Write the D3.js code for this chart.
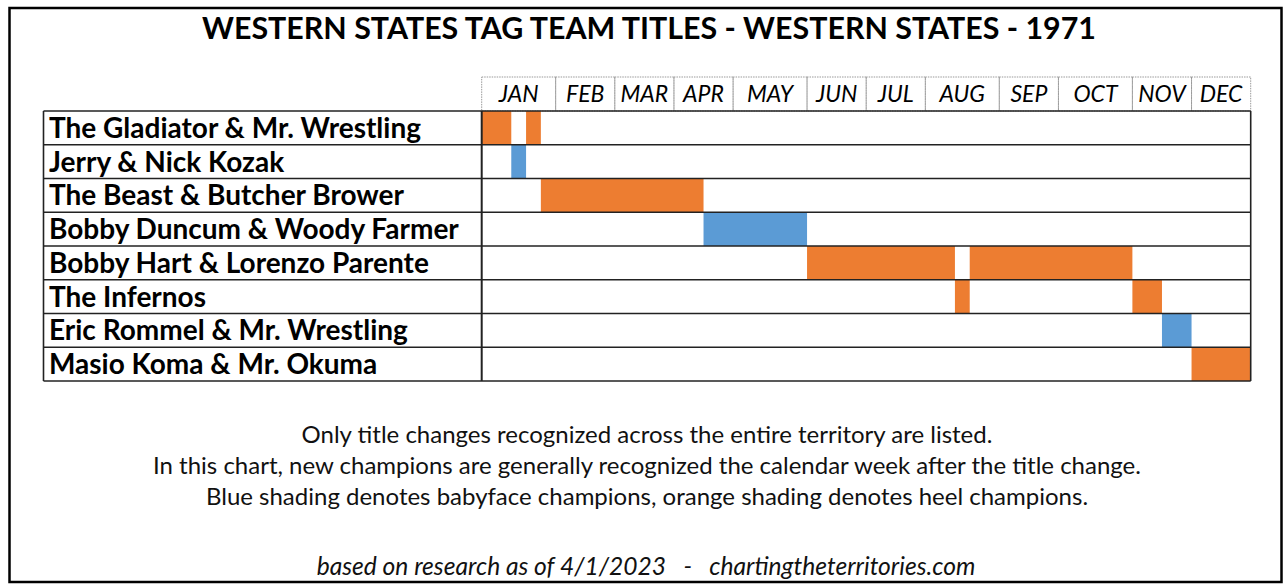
<!DOCTYPE html>
<html><head><meta charset="utf-8">
<script src="https://cdn.jsdelivr.net/npm/d3@7"></script>
<style>body{margin:0;background:#fff}svg{display:block}</style>
</head><body>
<svg id="c" width="1284" height="584"></svg>
<script>
const title = "WESTERN STATES TAG TEAM TITLES - WESTERN STATES - 1971";
const months = ["JAN","FEB","MAR","APR","MAY","JUN","JUL","AUG","SEP","OCT","NOV","DEC"];
const monthWeeks = [5,4,4,4,5,4,4,5,4,5,4,4];
const teams = [
  "The Gladiator & Mr. Wrestling",
  "Jerry & Nick Kozak",
  "The Beast & Butcher Brower",
  "Bobby Duncum & Woody Farmer",
  "Bobby Hart & Lorenzo Parente",
  "The Infernos",
  "Eric Rommel & Mr. Wrestling",
  "Masio Koma & Mr. Okuma"
];
// [team, startWeek, endWeek, alignment]
const reigns = [
  ["The Gladiator & Mr. Wrestling", 0, 2, "heel"],
  ["Jerry & Nick Kozak", 2, 3, "face"],
  ["The Gladiator & Mr. Wrestling", 3, 4, "heel"],
  ["The Beast & Butcher Brower", 4, 15, "heel"],
  ["Bobby Duncum & Woody Farmer", 15, 22, "face"],
  ["Bobby Hart & Lorenzo Parente", 22, 32, "heel"],
  ["The Infernos", 32, 33, "heel"],
  ["Bobby Hart & Lorenzo Parente", 33, 44, "heel"],
  ["The Infernos", 44, 46, "heel"],
  ["Eric Rommel & Mr. Wrestling", 46, 48, "face"],
  ["Masio Koma & Mr. Okuma", 48, 52, "heel"]
];
const notes = [
  "Only title changes recognized across the entire territory are listed.",
  "In this chart, new champions are generally recognized the calendar week after the title change.",
  "Blue shading denotes babyface champions, orange shading denotes heel champions."
];
const credit = "based on research as of 4/1/2023   -   chartingtheterritories.com";

const colors = {heel:"#ED7D31", face:"#5B9BD5"};
const svg = d3.select("#c");
const font = "Lato, 'Open Sans', sans-serif";

// outer frame
svg.append("rect").attr("x",9.5).attr("y",8).attr("width",1272).attr("height",574)
  .attr("fill","none").attr("stroke","#000").attr("stroke-width",2.5);

svg.append("text").attr("x",649).attr("y",39).attr("text-anchor","middle")
  .attr("font-family",font).attr("font-weight","bold").attr("font-size",30.4)
  .attr("fill","#000").text(title);

const labelX0 = 43.5;
const x = d3.scaleLinear().domain([0,52]).range([481.7,1250.7]);
const y = d3.scaleBand().domain(teams).range([111,381]).padding(0);

// month header boxes
let cum = [0];
monthWeeks.forEach(w=>cum.push(cum[cum.length-1]+w));
const mg = svg.append("g");
months.forEach((m,i)=>{
  const x0 = x(cum[i]), x1 = x(cum[i+1]);
  mg.append("rect").attr("x",x0).attr("y",77).attr("width",x1-x0).attr("height",34)
    .attr("fill","none").attr("stroke","#999").attr("stroke-width",1).attr("stroke-dasharray","1.5,1");
  mg.append("text").attr("x",(x0+x1)/2).attr("y",102).attr("text-anchor","middle")
    .attr("font-family",font).attr("font-style","italic").attr("font-size",23).attr("fill","#000").text(m);
});

// bars
svg.append("g").selectAll("rect").data(reigns).join("rect")
  .attr("x",d=>x(d[1])).attr("width",d=>x(d[2])-x(d[1]))
  .attr("y",d=>y(d[0])).attr("height",y.bandwidth())
  .attr("fill",d=>colors[d[3]]);

// grid lines
const gl = svg.append("g").attr("stroke","#222").attr("stroke-width",1.6);
teams.concat([null]).forEach((t,i)=>{
  const yy = 111 + i*y.bandwidth();
  gl.append("line").attr("x1",labelX0).attr("x2",x(52)).attr("y1",yy).attr("y2",yy);
});
gl.append("line").attr("x1",labelX0).attr("x2",labelX0).attr("y1",111).attr("y2",381);
gl.append("line").attr("x1",x(0)).attr("x2",x(0)).attr("y1",111).attr("y2",381).attr("stroke-width",2);
gl.append("line").attr("x1",x(52)).attr("x2",x(52)).attr("y1",111).attr("y2",381);

// labels
svg.append("g").selectAll("text").data(teams).join("text")
  .attr("x",49).attr("y",d=>y(d)+y.bandwidth()/2+10)
  .attr("font-family",font).attr("font-weight","bold").attr("font-size",28).attr("fill","#000")
  .text(d=>d);

// notes
svg.append("g").selectAll("text").data(notes).join("text")
  .attr("x",647).attr("y",(d,i)=>443+i*31).attr("text-anchor","middle")
  .attr("font-family",font).attr("font-size",24).attr("fill","#111").text(d=>d);
svg.append("text").attr("x",646).attr("y",575).attr("text-anchor","middle")
  .attr("font-family",font).attr("font-style","italic").attr("font-size",24.6).attr("fill","#111")
  .attr("xml:space","preserve").style("white-space","pre").text(credit);
</script>
</body></html>
